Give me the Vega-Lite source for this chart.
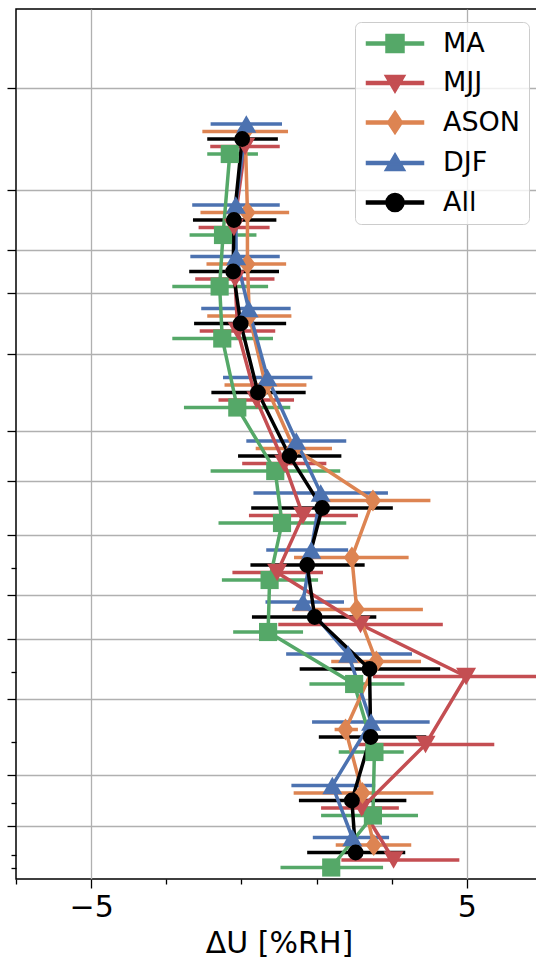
{
  "$schema": "https://vega.github.io/schema/vega-lite/v6.json",
  "width": 526,
  "height": 870,
  "padding": {"left": 6, "top": 9, "right": 0, "bottom": 0},
  "config": {
    "font": "DejaVu Sans",
    "view": {"stroke": "#000000", "strokeWidth": 1.5},
    "axis": {"domain": false, "gridColor": "#b0b0b0", "gridWidth": 1.3, "tickColor": "#000000", "tickWidth": 1.3, "labelColor": "#000000", "titleColor": "#000000", "titleFontWeight": "normal"}
  },
  "data": {
    "values": [
      {"s": "MA", "z": 72.5, "x": -1.31, "lo": -1.91, "hi": -0.56},
      {"s": "MA", "z": 64.4, "x": -1.49, "lo": -2.38, "hi": -0.60},
      {"s": "MA", "z": 59.25, "x": -1.58, "lo": -2.84, "hi": -0.29},
      {"s": "MA", "z": 54.05, "x": -1.51, "lo": -2.84, "hi": -0.16},
      {"s": "MA", "z": 47.15, "x": -1.11, "lo": -2.53, "hi": 0.30},
      {"s": "MA", "z": 40.8, "x": -0.10, "lo": -1.82, "hi": 1.63},
      {"s": "MA", "z": 35.6, "x": 0.08, "lo": -1.61, "hi": 1.79},
      {"s": "MA", "z": 29.9, "x": -0.25, "lo": -1.52, "hi": 1.04},
      {"s": "MA", "z": 24.7, "x": -0.29, "lo": -1.22, "hi": 0.64},
      {"s": "MA", "z": 19.5, "x": 2.0, "lo": 0.81, "hi": 3.34},
      {"s": "MA", "z": 12.7, "x": 2.54, "lo": 1.59, "hi": 3.32},
      {"s": "MA", "z": 6.35, "x": 2.50, "lo": 1.12, "hi": 3.70},
      {"s": "MA", "z": 1.15, "x": 1.39, "lo": 0.04, "hi": 2.77},
      {"s": "MJJ", "z": 73.25, "x": -0.9, "lo": -1.83, "hi": 0.02},
      {"s": "MJJ", "z": 65.15, "x": -1.2, "lo": -2.14, "hi": -0.25},
      {"s": "MJJ", "z": 60.0, "x": -1.17, "lo": -2.23, "hi": -0.12},
      {"s": "MJJ", "z": 54.8, "x": -1.1, "lo": -2.11, "hi": -0.10},
      {"s": "MJJ", "z": 47.9, "x": -0.6, "lo": -1.61, "hi": 0.40},
      {"s": "MJJ", "z": 41.55, "x": 0.14, "lo": -0.98, "hi": 1.26},
      {"s": "MJJ", "z": 36.35, "x": 0.64, "lo": -0.80, "hi": 2.10},
      {"s": "MJJ", "z": 30.65, "x": -0.05, "lo": -1.24, "hi": 1.17},
      {"s": "MJJ", "z": 25.45, "x": 2.17, "lo": -0.02, "hi": 4.36},
      {"s": "MJJ", "z": 20.25, "x": 4.98, "lo": 2.5, "hi": 7.5},
      {"s": "MJJ", "z": 13.45, "x": 3.90, "lo": 2.07, "hi": 5.73},
      {"s": "MJJ", "z": 7.1, "x": 2.2, "lo": 1.12, "hi": 3.19},
      {"s": "MJJ", "z": 1.9, "x": 3.05, "lo": 1.66, "hi": 4.80},
      {"s": "ASON", "z": 74.75, "x": -0.9, "lo": -2.04, "hi": 0.24},
      {"s": "ASON", "z": 66.65, "x": -0.84, "lo": -2.09, "hi": 0.27},
      {"s": "ASON", "z": 61.5, "x": -0.84, "lo": -1.93, "hi": 0.19},
      {"s": "ASON", "z": 56.3, "x": -0.79, "lo": -1.91, "hi": 0.33},
      {"s": "ASON", "z": 49.4, "x": -0.36, "lo": -1.45, "hi": 0.73},
      {"s": "ASON", "z": 43.05, "x": 0.4, "lo": -0.62, "hi": 1.41},
      {"s": "ASON", "z": 37.85, "x": 2.50, "lo": 0.97, "hi": 4.03},
      {"s": "ASON", "z": 32.15, "x": 1.94, "lo": 0.40, "hi": 3.45},
      {"s": "ASON", "z": 26.95, "x": 2.07, "lo": 0.35, "hi": 3.83},
      {"s": "ASON", "z": 21.75, "x": 2.59, "lo": 1.39, "hi": 3.78},
      {"s": "ASON", "z": 14.95, "x": 1.77, "lo": 1.48, "hi": 2.10},
      {"s": "ASON", "z": 8.6, "x": 2.22, "lo": 0.39, "hi": 4.11},
      {"s": "ASON", "z": 3.4, "x": 2.52, "lo": 1.51, "hi": 3.52},
      {"s": "DJF", "z": 75.5, "x": -0.87, "lo": -1.82, "hi": 0.08},
      {"s": "DJF", "z": 67.4, "x": -1.15, "lo": -2.31, "hi": 0.02},
      {"s": "DJF", "z": 62.25, "x": -1.14, "lo": -2.36, "hi": 0.02},
      {"s": "DJF", "z": 57.05, "x": -0.81, "lo": -2.07, "hi": 0.31},
      {"s": "DJF", "z": 50.15, "x": -0.31, "lo": -1.49, "hi": 0.89},
      {"s": "DJF", "z": 43.8, "x": 0.46, "lo": -0.87, "hi": 1.79},
      {"s": "DJF", "z": 38.6, "x": 1.11, "lo": -0.68, "hi": 2.90},
      {"s": "DJF", "z": 32.9, "x": 0.86, "lo": -0.34, "hi": 1.84},
      {"s": "DJF", "z": 27.7, "x": 0.64, "lo": -0.36, "hi": 1.73},
      {"s": "DJF", "z": 22.5, "x": 1.84, "lo": 0.19, "hi": 3.54},
      {"s": "DJF", "z": 15.7, "x": 2.45, "lo": 0.88, "hi": 4.01},
      {"s": "DJF", "z": 9.35, "x": 1.42, "lo": 0.33, "hi": 2.56},
      {"s": "DJF", "z": 4.15, "x": 1.95, "lo": 0.90, "hi": 2.93},
      {"s": "All", "z": 74.0, "x": -0.98, "lo": -1.91, "hi": -0.03},
      {"s": "All", "z": 65.9, "x": -1.20, "lo": -2.29, "hi": -0.07},
      {"s": "All", "z": 60.75, "x": -1.22, "lo": -2.39, "hi": 0.0},
      {"s": "All", "z": 55.55, "x": -1.02, "lo": -2.26, "hi": 0.19},
      {"s": "All", "z": 48.65, "x": -0.56, "lo": -1.80, "hi": 0.71},
      {"s": "All", "z": 42.3, "x": 0.28, "lo": -1.09, "hi": 1.66},
      {"s": "All", "z": 37.1, "x": 1.15, "lo": -0.74, "hi": 3.03},
      {"s": "All", "z": 31.4, "x": 0.75, "lo": -0.76, "hi": 2.28},
      {"s": "All", "z": 26.2, "x": 0.95, "lo": -0.72, "hi": 2.59},
      {"s": "All", "z": 21.0, "x": 2.41, "lo": 0.55, "hi": 4.29},
      {"s": "All", "z": 14.2, "x": 2.44, "lo": 1.06, "hi": 3.92},
      {"s": "All", "z": 7.85, "x": 1.94, "lo": 0.53, "hi": 3.39},
      {"s": "All", "z": 2.65, "x": 2.04, "lo": 0.75, "hi": 3.36}
    ]
  },
  "encoding": {
    "y": {
      "field": "z",
      "type": "quantitative",
      "scale": {"domain": [0, 87], "nice": false, "zero": false},
      "axis": {
        "title": null,
        "labels": false,
        "orient": "left",
        "values": [79.1, 68.9, 62.9, 58.6, 52.5, 44.8, 39.8, 34.4, 31.1, 28.4, 24.0, 20.7, 18.0, 13.7, 10.4, 7.6, 5.3, 2.4, 1.1],
        "tickSize": {"condition": {"test": "indexof([31.1,20.7,13.7,7.6,2.4,1.1], datum.value) >= 0", "value": 5}, "value": 9},
        "gridOpacity": {"condition": {"test": "indexof([31.1,20.7,13.7,7.6,2.4,1.1], datum.value) >= 0", "value": 0}, "value": 1}
      }
    },
    "x": {"field": "x", "type": "quantitative", "title": "ΔU [%RH]"},
    "color": {
      "field": "s",
      "type": "nominal",
      "scale": {"domain": ["MA", "MJJ", "ASON", "DJF", "All"], "range": ["#55a868", "#c44e52", "#dd8452", "#4c72b0", "#000000"]},
      "legend": {
        "title": null,
        "orient": "top-right",
        "offset": 13,
        "labelFontSize": 27,
        "labelColor": "#000000",
        "symbolSize": 400,
        "labelOffset": 53,
        "rowPadding": 11.5,
        "padding": 8,
        "fillColor": "rgba(255,255,255,0.8)",
        "strokeColor": "#cccccc",
        "cornerRadius": 6,
        "encode": {
          "symbols": {
            "update": {
              "shape": {"signal": "datum.value === 'MA' ? 'M-1,-0.15H4.7V0.15H-1ZM0.95,-0.9H2.75V0.9H0.95Z' : datum.value === 'MJJ' ? 'M-1,-0.15H4.7V0.15H-1ZM0.85,-0.75H2.85L1.85,0.95Z' : datum.value === 'ASON' ? 'M-1,-0.15H4.7V0.15H-1ZM1.85,-1.15L2.6,0L1.85,1.15L1.1,0Z' : datum.value === 'DJF' ? 'M-1,-0.15H4.7V0.15H-1ZM1.85,-0.95L2.85,0.75H0.85Z' : 'M-1,-0.15H4.7V0.15H-1ZM2.75,0A0.9,0.9,0,1,1,0.95,0A0.9,0.9,0,1,1,2.75,0Z'"},
              "opacity": {"value": 1}
            }
          }
        }
      }
    }
  },
  "layer": [
    {
      "mark": {"type": "rule", "strokeWidth": 3.5, "clip": true},
      "encoding": {
        "x": {
          "field": "lo",
          "type": "quantitative",
          "title": "ΔU [%RH]",
          "scale": {"domain": [-7, 7], "nice": false, "zero": false},
          "axis": {
            "values": [-7, -6, -5, -4, -3, -2, -1, 0, 1, 2, 3, 4, 5, 6, 7],
            "labelExpr": "datum.value % 5 === 0 ? datum.label : ''",
            "tickSize": {"condition": {"test": "datum.value % 5 === 0", "value": 9}, "value": 5},
            "gridOpacity": {"condition": {"test": "datum.value % 5 === 0", "value": 1}, "value": 0},
            "labelFontSize": 30,
            "titleFontSize": 30,
            "labelPadding": 4,
            "titlePadding": 6,
            "labelFlush": false,
            "labelOverlap": false
          }
        },
        "x2": {"field": "hi"}
      }
    },
    {
      "mark": {"type": "line", "strokeWidth": 3.5, "clip": true},
      "encoding": {
        "order": {"field": "z", "type": "quantitative"}
      }
    },
    {
      "transform": [{"filter": "datum.s === 'MA'"}],
      "mark": {"type": "point", "filled": true, "opacity": 1, "strokeWidth": 0, "shape": "square", "size": 330, "clip": true}
    },
    {
      "transform": [{"filter": "datum.s === 'MJJ'"}],
      "mark": {"type": "point", "filled": true, "opacity": 1, "strokeWidth": 0, "shape": "triangle-down", "size": 400, "clip": true}
    },
    {
      "transform": [{"filter": "datum.s === 'ASON'"}],
      "mark": {"type": "point", "filled": true, "opacity": 1, "strokeWidth": 0, "shape": "M0,-1L0.75,0L0,1L-0.75,0Z", "size": 480, "clip": true}
    },
    {
      "transform": [{"filter": "datum.s === 'DJF'"}],
      "mark": {"type": "point", "filled": true, "opacity": 1, "strokeWidth": 0, "shape": "triangle-up", "size": 400, "clip": true}
    },
    {
      "transform": [{"filter": "datum.s === 'All'"}],
      "mark": {"type": "point", "filled": true, "opacity": 1, "strokeWidth": 0, "shape": "circle", "size": 250, "clip": true}
    }
  ]
}
